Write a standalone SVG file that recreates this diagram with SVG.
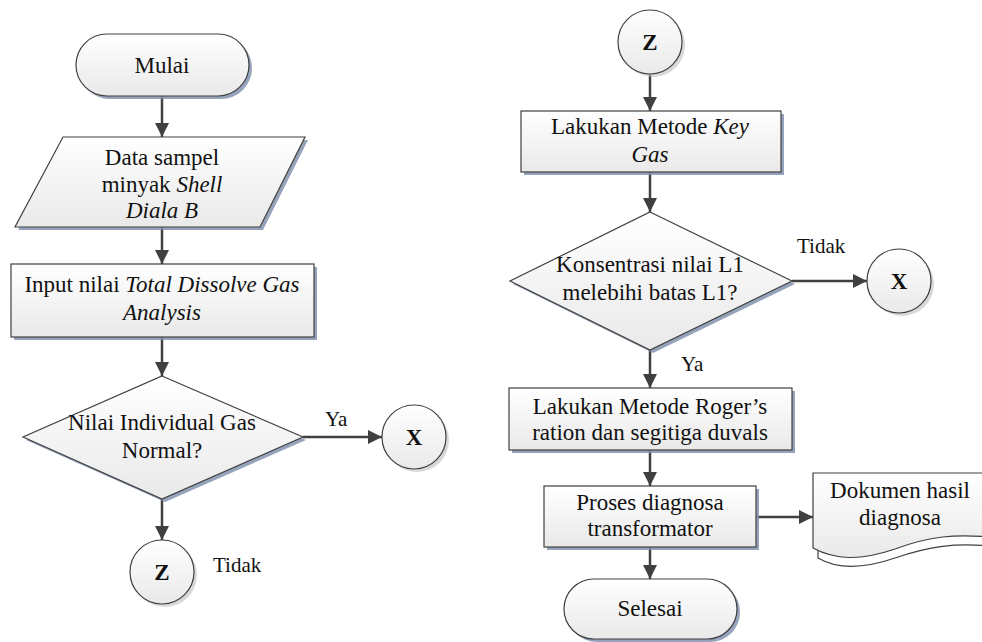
<svg xmlns="http://www.w3.org/2000/svg" width="982" height="642" viewBox="0 0 982 642">
<defs>
<linearGradient id="g" x1="0" y1="0" x2="0" y2="1">
<stop offset="0" stop-color="#ffffff"/>
<stop offset="1" stop-color="#e9e9e9"/>
</linearGradient>
<marker id="ah" markerUnits="userSpaceOnUse" markerWidth="16" markerHeight="16" refX="14" refY="7" orient="auto">
<path d="M0,0 L14,7 L0,14 Z" fill="#404040"/>
</marker>
</defs>
<style>
.sh{fill:#8294b0;opacity:0.85}
.csh{fill:#bfbfbf;opacity:0.6}
.shape{fill:url(#g);stroke:#404040;stroke-width:1.2}
.t{font-family:"Liberation Serif","Times New Roman",serif;font-size:23px;fill:#111;text-anchor:middle}
.lbl{font-family:"Liberation Serif","Times New Roman",serif;font-size:21px;fill:#111}
.b{font-weight:bold}
.c{stroke:#404040;stroke-width:2.5;fill:none;marker-end:url(#ah)}
</style>
<rect width="982" height="642" fill="#ffffff"/>

<g id="connectors">
<line class="c" x1="162" y1="96" x2="162" y2="137"/>
<line class="c" x1="162" y1="227" x2="162" y2="264"/>
<line class="c" x1="162" y1="337" x2="162" y2="376"/>
<line class="c" x1="303" y1="437" x2="382" y2="437"/>
<line class="c" x1="162" y1="499" x2="162" y2="540"/>
<line class="c" x1="650" y1="74" x2="650" y2="111"/>
<line class="c" x1="650" y1="172" x2="650" y2="212"/>
<line class="c" x1="792" y1="281" x2="867" y2="281"/>
<line class="c" x1="650" y1="350" x2="650" y2="388"/>
<line class="c" x1="650" y1="450" x2="650" y2="486"/>
<line class="c" x1="756" y1="517" x2="813" y2="517"/>
<line class="c" x1="650" y1="547" x2="650" y2="579"/>
<text class="lbl" x="325" y="426">Ya</text>
<text class="lbl" x="213" y="572">Tidak</text>
<text class="lbl" x="797" y="253">Tidak</text>
<text class="lbl" x="681" y="371">Ya</text>
</g>

<g id="mulai">
<rect class="sh" x="79" y="37" width="173" height="62" rx="31"/>
<rect class="shape" x="76" y="34" width="173" height="62" rx="31"/>
<text class="t" x="162" y="73">Mulai</text>
</g>

<g id="data-sampel">
<polygon class="sh" points="66,140 308,140 263,230 18,230"/>
<polygon class="shape" points="63,137 305,137 260,227 15,227"/>
<text class="t" x="162" y="165">Data sampel</text>
<text class="t" x="162" y="192">minyak <tspan font-style="italic">Shell</tspan></text>
<text class="t" x="162" y="218" font-style="italic">Diala B</text>
</g>

<g id="input-tdga">
<rect class="sh" x="14" y="267" width="303" height="73"/>
<rect class="shape" x="11" y="264" width="303" height="73"/>
<text class="t" x="162" y="292">Input nilai <tspan font-style="italic">Total Dissolve Gas</tspan></text>
<text class="t" x="162" y="320" font-style="italic">Analysis</text>
</g>

<g id="cek-gas">
<polygon class="sh" points="165,379 306,440 165,502 26,440"/>
<polygon class="shape" points="162,376 303,437 162,499 23,437"/>
<text class="t" x="162" y="430">Nilai Individual Gas</text>
<text class="t" x="162" y="458">Normal?</text>
</g>

<g id="x-left">
<circle class="csh" cx="417" cy="440" r="32"/>
<circle class="shape" cx="414" cy="437" r="32"/>
<text class="t b" x="414" y="445">X</text>
</g>

<g id="z-left">
<circle class="csh" cx="165" cy="575" r="32"/>
<circle class="shape" cx="162" cy="572" r="32"/>
<text class="t b" x="162" y="580">Z</text>
</g>

<g id="z-right">
<circle class="csh" cx="653" cy="45" r="32"/>
<circle class="shape" cx="650" cy="42" r="32"/>
<text class="t b" x="650" y="50">Z</text>
</g>

<g id="key-gas">
<rect class="sh" x="524" y="114" width="260" height="61"/>
<rect class="shape" x="521" y="111" width="260" height="61"/>
<text class="t" x="650" y="134">Lakukan Metode <tspan font-style="italic">Key</tspan></text>
<text class="t" x="650" y="162" font-style="italic">Gas</text>
</g>

<g id="cek-l1">
<polygon class="sh" points="653,215 795,284 653,353 513,284"/>
<polygon class="shape" points="650,212 792,281 650,350 510,281"/>
<text class="t" x="650" y="272">Konsentrasi nilai L1</text>
<text class="t" x="650" y="300">melebihi batas L1?</text>
</g>

<g id="x-right">
<circle class="csh" cx="902" cy="284" r="32"/>
<circle class="shape" cx="899" cy="281" r="32"/>
<text class="t b" x="899" y="289">X</text>
</g>

<g id="roger">
<rect class="sh" x="512" y="391" width="283" height="62"/>
<rect class="shape" x="509" y="388" width="283" height="62"/>
<text class="t" x="650" y="414">Lakukan Metode Roger’s</text>
<text class="t" x="650" y="440">ration dan segitiga duvals</text>
</g>

<g id="proses">
<rect class="sh" x="547" y="489" width="212" height="61"/>
<rect class="shape" x="544" y="486" width="212" height="61"/>
<text class="t" x="650" y="510">Proses diagnosa</text>
<text class="t" x="650" y="536">transformator</text>
</g>

<g id="dokumen">
<path d="M818,548 L818,558 C835,568 860,570 895,558 C930,546 955,543 990,546" fill="#ffffff" stroke="#404040" stroke-width="1.2"/>
<path class="shape" d="M813,473 L990,473 L990,537 C955,534 930,536 895,549 C860,561 835,560 813,548 Z"/>
<text class="t" x="900" y="498">Dokumen hasil</text>
<text class="t" x="900" y="525">diagnosa</text>
</g>

<g id="selesai">
<rect class="sh" x="567" y="582" width="173" height="60" rx="30"/>
<rect class="shape" x="564" y="579" width="173" height="60" rx="30"/>
<text class="t" x="650" y="616">Selesai</text>
</g>
</svg>
